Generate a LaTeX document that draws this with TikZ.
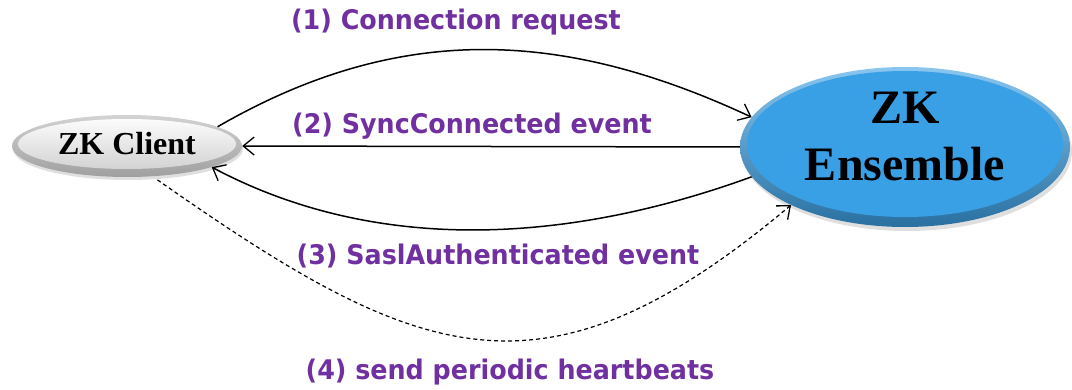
\documentclass[tikz,border=0pt]{standalone}
\usepackage{fontspec}
\usepackage{tikz}
\usetikzlibrary{arrows.meta,shapes.geometric,shadows}

\newfontfamily\steplabelfont[FakeStretch=0.94]{DejaVu Sans}
\newfontfamily\partyfont{Liberation Serif}
\definecolor{zkpurple}{RGB}{112,48,160}
\definecolor{zkblue}{RGB}{58,160,230}

\begin{document}
\begin{tikzpicture}[x=1pt, y=1pt,
  msg/.style={line width=1.5pt, -{Straight Barb[length=11pt,width=18pt,line width=1.3pt]}},
  beat/.style={msg, line width=1.2pt, dash pattern=on 4pt off 3pt},
  steplabel/.style={text=zkpurple, font=\steplabelfont\bfseries\fontsize{27}{30}\selectfont}]
\useasboundingbox (0,0) rectangle (1072,389);

% the two parties
\node[ellipse, minimum width=230pt, minimum height=62pt, inner sep=0pt,
      top color=gray!35, bottom color=gray!75,
      drop shadow={shadow xshift=1pt, shadow yshift=-3pt, opacity=0.25},
      path picture={\shade[top color=white, bottom color=gray!40]
        ([yshift=2pt]path picture bounding box.center) ellipse (109pt and 25pt);},
      text depth=6pt,
      font=\partyfont\bfseries\fontsize{32}{34}\selectfont] (client) at (127,243) {ZK Client};
\node[ellipse, minimum width=330pt, minimum height=160pt, inner sep=0pt,
      top color=zkblue!60!white, bottom color=zkblue!70!black,
      drop shadow={shadow xshift=2pt, shadow yshift=-4pt, opacity=0.25},
      path picture={\fill[zkblue]
        ([yshift=3pt]path picture bounding box.center) ellipse (158pt and 73pt);},
      align=center, text depth=22pt,
      font=\partyfont\bfseries\fontsize{48}{57}\selectfont] (ensemble) at (905,242) {ZK\\Ensemble};

% messages
\draw[msg] (client.12) to[out=30, in=155] (ensemble.169);
\draw[msg] (ensemble.west) -- (client.east);
\draw[msg] (ensemble.191) to[out=200, in=-28, looseness=0.9] (client.-14);
\draw[beat, shorten <=6pt] (client.-50) to[out=-35, in=220, looseness=1.3] (ensemble.207);

\node[steplabel] (req) at (456,367) {(1) Connection request};
\node[steplabel] (sync) at (472,263) {(2) SyncConnected event};
\node[steplabel] (sasl) at (498,133) {(3) SaslAuthenticated event};
\node[steplabel] (beats) at (510,17) {(4) send periodic heartbeats};

\end{tikzpicture}
\end{document}
